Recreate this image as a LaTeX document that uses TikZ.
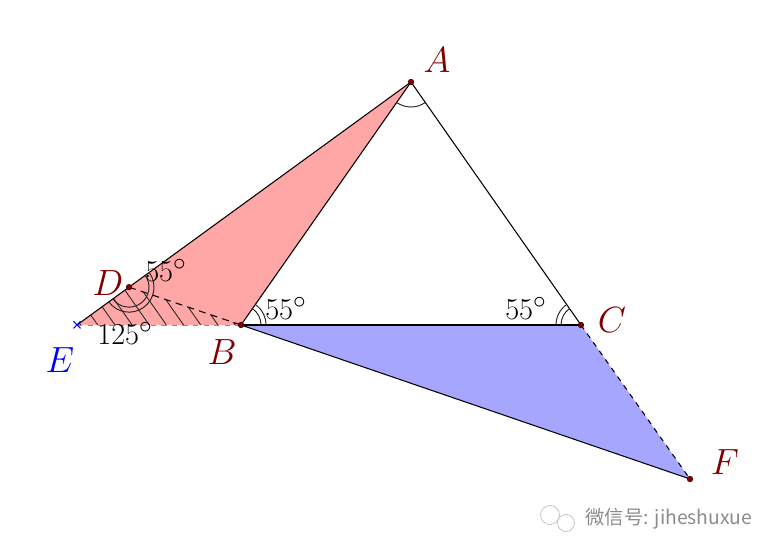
\documentclass[tikz,border=0pt]{standalone}
\usepackage{fontspec}
\newfontfamily\cjk{Noto Sans CJK SC}
\usetikzlibrary{patterns.meta}
\definecolor{ptred}{RGB}{128,0,0}
\definecolor{fillred}{RGB}{255,166,166}
\definecolor{fillblue}{RGB}{166,166,255}
\tikzset{
  ptlabel/.style={text=ptred,font=\fontsize{20}{24}\selectfont},
  anglabel/.style={font=\fontsize{19}{22}\selectfont},
  seg/.style={line width=0.6pt,black},
  markarc/.style={line width=0.55pt,black!85}
}
\begin{document}
\begin{tikzpicture}
\useasboundingbox (0,0) rectangle (15.5,11.06);

\coordinate (A) at (8.22,9.42);
\coordinate (B) at (4.82,4.56);
\coordinate (C) at (11.62,4.56);
\coordinate (D) at (2.58,5.317);
\coordinate (E) at (1.54,4.56);
\coordinate (F) at (13.80,1.48);

\fill[fillred] (A) -- (E) -- (B) -- cycle;
\fill[fillblue] (B) -- (C) -- (F) -- cycle;
\fill[pattern={Lines[angle=-55,distance=8pt,line width=0.5pt]},pattern color=black!85] (D) -- (E) -- (B) -- cycle;

\draw[seg] (A) -- (B);
\draw[seg] (A) -- (C);
\draw[seg] (B) -- (C);
\draw[seg] (E) -- (A);
\draw[seg] (B) -- (F);
\draw[seg,dashed] (C) -- (F);
\draw[seg,dash pattern=on 4pt off 3pt] (D) -- (B);
\draw[line width=0.5pt,dashed,black!45] (E) -- (B);

\draw[markarc] (A) ++(-125:0.5) arc[start angle=-125,end angle=-55,radius=0.5];
\draw[markarc] (B) ++(0:0.4) arc[start angle=0,end angle=55,radius=0.4];
\draw[markarc] (B) ++(0:0.5) arc[start angle=0,end angle=55,radius=0.5];
\draw[markarc] (C) ++(125:0.4) arc[start angle=125,end angle=180,radius=0.4];
\draw[markarc] (C) ++(125:0.5) arc[start angle=125,end angle=180,radius=0.5];
\draw[markarc] (D) ++(-144:0.4) arc[start angle=-144,end angle=36,radius=0.4];
\draw[markarc] (D) ++(-144:0.5) arc[start angle=-144,end angle=36,radius=0.5];

\foreach \p in {A,B,C,D,F}
  \filldraw[ptred,draw=black!60!ptred,line width=0.3pt] (\p) circle (1.6pt);
\draw[blue,line width=0.6pt] (E) +(-0.07,-0.07) -- +(0.07,0.07);
\draw[blue,line width=0.6pt] (E) +(-0.07,0.07) -- +(0.07,-0.07);

\node[ptlabel] (labA) at (8.74,9.86) {$A$};
\node[ptlabel] (labB) at (4.44,4.02) {$B$};
\node[ptlabel] (labC) at (12.24,4.66) {$C$};
\node[ptlabel] (labD) at (2.16,5.40) {$D$};
\node[ptlabel,text=blue] (labE) at (1.20,3.86) {$E$};
\node[ptlabel] (labF) at (14.50,1.82) {$F$};

\node[anglabel] (angB) at (5.72,4.90) {$55^\circ$};
\node[anglabel] (angC) at (10.52,4.90) {$55^\circ$};
\node[anglabel] (angD) at (3.32,5.66) {$55^\circ$};
\node[anglabel] (angE) at (2.50,4.40) {$125^\circ$};

% watermark
\draw[black!25,line width=0.4pt] (11.0,0.76) circle (0.19);
\draw[black!25,line width=0.4pt,fill=white] (11.32,0.60) circle (0.17);
\node[text=black!45,font=\cjk\fontsize{11}{13}\selectfont] (mark) at (13.38,0.68) {微信号: jiheshuxue};
\end{tikzpicture}
\end{document}
